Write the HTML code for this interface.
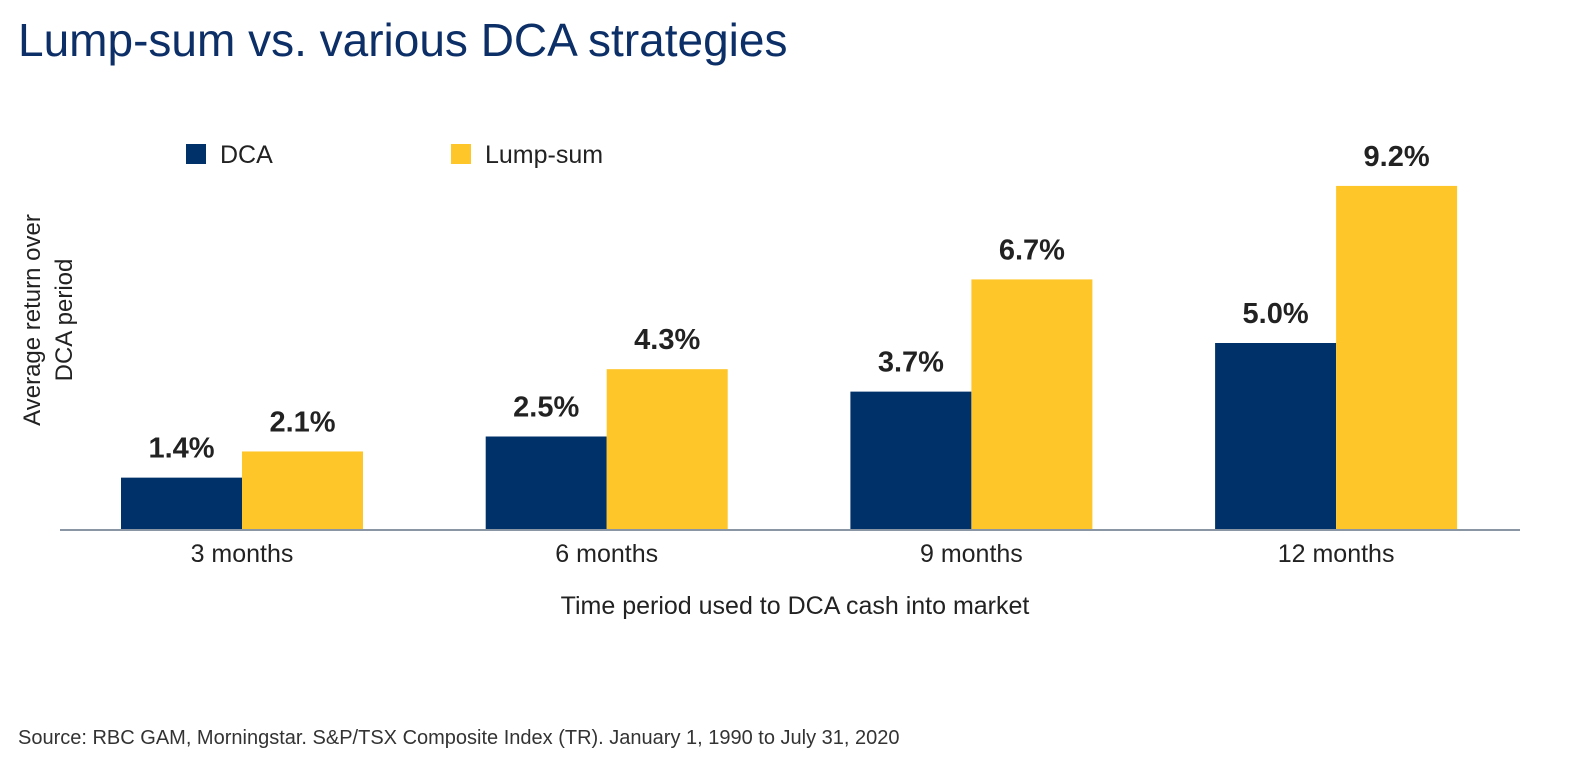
<!DOCTYPE html>
<html><head><meta charset="utf-8"><style>
body{margin:0;background:#fff;width:1577px;height:766px;overflow:hidden;font-family:"Liberation Sans","DejaVu Sans",sans-serif}
</style></head><body>
<svg width="1577" height="766" xmlns="http://www.w3.org/2000/svg">
<text x="18" y="56" font-size="46" fill="#0d2f67">Lump-sum vs. various DCA strategies</text>
<g>
<rect x="186" y="144" width="20" height="20" fill="#003168"/>
<text x="220" y="163" font-size="25" fill="#222">DCA</text>
<rect x="451" y="144" width="20" height="20" fill="#ffc629"/>
<text x="485" y="163" font-size="25" fill="#222">Lump-sum</text>
</g>
<text transform="translate(40,320) rotate(-90)" text-anchor="middle" font-size="24" fill="#222"><tspan x="0" y="0">Average return over</tspan><tspan x="0" y="32">DCA period</tspan></text>
<g id="bars"></g>
<line x1="60" y1="530" x2="1520" y2="530" stroke="#8a96a3" stroke-width="2"/>
<text x="795" y="614" text-anchor="middle" font-size="25" fill="#222">Time period used to DCA cash into market</text>
<text x="18" y="744" font-size="20" fill="#333">Source: RBC GAM, Morningstar. S&amp;P/TSX Composite Index (TR). January 1, 1990 to July 31, 2020</text>
</svg>
<script>
const categories=["3 months","6 months","9 months","12 months"];
const dcaValues=[1.4,2.5,3.7,5.0];
const lumpValues=[2.1,4.3,6.7,9.2];
const NS="http://www.w3.org/2000/svg";
const baseY=530, pxPer=37.4, groupStart=121, groupStep=364.7, barW=121;
function yScale(v){return baseY-v*pxPer;}
function xGroup(i){return groupStart+i*groupStep;}
const g=document.getElementById('bars');
function mk(tag,attrs){const e=document.createElementNS(NS,tag);for(const k in attrs)e.setAttribute(k,attrs[k]);return e;}
categories.forEach((c,i)=>{
  const x0=xGroup(i);
  [[dcaValues[i],"#003168","dca"],[lumpValues[i],"#ffc629","lump-sum"]].forEach((s,j)=>{
    const x=x0+j*barW, y=yScale(s[0]);
    const r=mk('rect',{x:x,y:y,width:barW,height:baseY-y,fill:s[1]});
    
    
    g.appendChild(r);
    const t=mk('text',{x:x+barW/2,y:y-20,'text-anchor':'middle','font-size':'29','font-weight':'bold',fill:'#222'});
    t.textContent=s[0].toFixed(1)+'%';
    
    
    g.appendChild(t);
  });
  const l=mk('text',{x:x0+barW,y:562,'text-anchor':'middle','font-size':'25',fill:'#222'});
  l.textContent=c;
  
  
  g.appendChild(l);
});
</script>
</body></html>
